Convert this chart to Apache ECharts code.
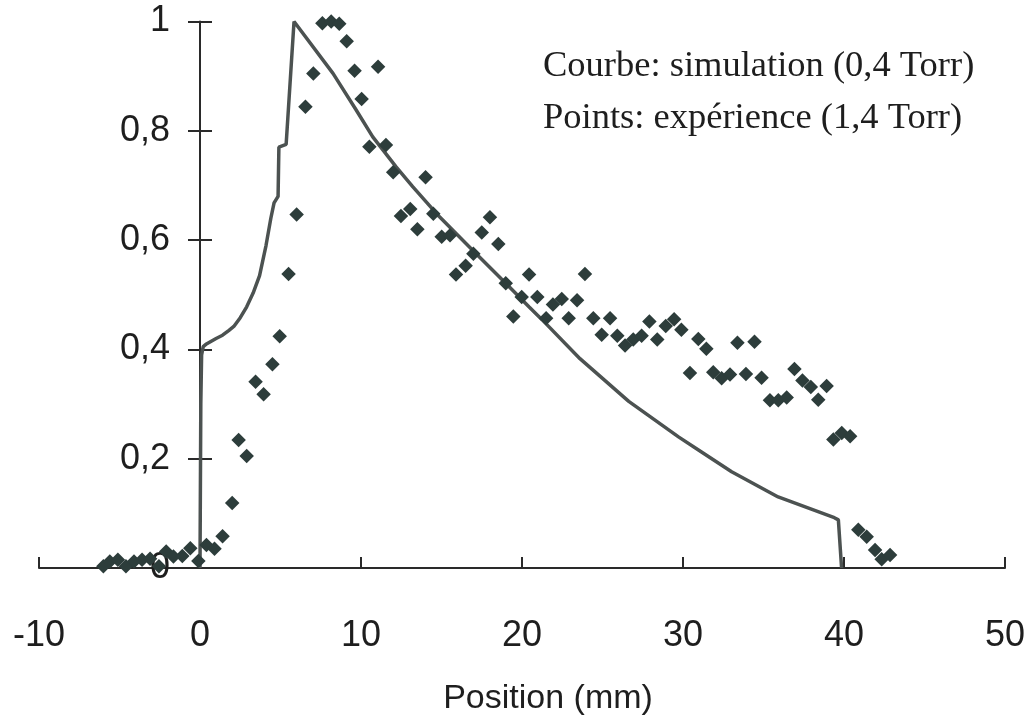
<!DOCTYPE html>
<html>
<head>
<meta charset="utf-8">
<script src="https://cdn.jsdelivr.net/npm/echarts@6/dist/echarts.min.js"></script>
<style>
html,body{margin:0;padding:0;background:#ffffff;}
#chart{width:1031px;height:718px;}
</style>
</head>
<body>
<div id="chart"></div>
<script>
// Simulation curve (0,4 Torr)
const simPosition = [0, 0.05, 0.1, 0.2, 0.4, 0.7, 1.0, 1.4, 1.8, 2.1, 2.5, 2.9, 3.3, 3.7, 4.1, 4.4, 4.6, 4.85, 4.9, 5.35, 5.84,
  8.26, 9.7, 10.73, 12.18, 13.21, 14.86, 16.92, 18.99, 20.43, 21.26, 23.6, 26.63, 29.72, 30.96, 33.02, 35.91, 39.4, 39.65, 39.85];
const simValue = [0, 0.3, 0.39, 0.405, 0.41, 0.415, 0.42, 0.426, 0.435, 0.442, 0.458, 0.478, 0.503, 0.535, 0.59, 0.64, 0.668, 0.68, 0.77, 0.775, 1.0,
  0.905, 0.838, 0.789, 0.734, 0.698, 0.643, 0.582, 0.521, 0.478, 0.454, 0.383, 0.305, 0.240, 0.216, 0.176, 0.130, 0.092, 0.088, 0];

// Experimental points (1,4 Torr)
const expPosition = [-6.0, -5.6, -5.1, -4.6, -4.1, -3.6, -3.1, -2.55, -2.1, -1.65, -1.1, -0.6, -0.1, 0.4, 0.9, 1.4, 2.0, 2.4, 2.9, 3.45,
  3.95, 4.5, 4.95, 5.5, 6.0, 6.55, 7.04, 7.6, 8.15, 8.65, 9.11, 9.6, 10.04, 10.52, 11.06, 11.55, 12.0, 12.48, 13.06, 13.5,
  14.01, 14.49, 15.01, 15.53, 15.9, 16.5, 16.98, 17.5, 18.01, 18.53, 18.99, 19.46, 19.98, 20.44, 20.95, 21.5, 21.92, 22.47, 22.9, 23.42,
  23.91, 24.43, 24.95, 25.47, 25.92, 26.4, 26.91, 27.43, 27.91, 28.4, 28.93, 29.45, 29.9, 30.43, 30.95, 31.45, 31.88, 32.4, 32.92, 33.38,
  33.91, 34.44, 34.88, 35.4, 35.92, 36.44, 36.92, 37.42, 37.94, 38.4, 38.92, 39.34, 39.86, 40.38, 40.89, 41.41, 41.93, 42.34, 42.86];
const expValue = [0.003, 0.012, 0.015, 0.003, 0.012, 0.015, 0.017, 0.003, 0.030, 0.021, 0.022, 0.036, 0.013, 0.042, 0.035, 0.058, 0.119, 0.234, 0.205, 0.341,
  0.318, 0.373, 0.424, 0.538, 0.647, 0.844, 0.905, 0.997, 1.0, 0.996, 0.964, 0.91, 0.858, 0.771, 0.917, 0.774, 0.724, 0.644, 0.657, 0.62,
  0.715, 0.648, 0.606, 0.609, 0.537, 0.553, 0.575, 0.614, 0.642, 0.593, 0.521, 0.46, 0.496, 0.537, 0.496, 0.457, 0.482, 0.492, 0.457, 0.49,
  0.538, 0.457, 0.427, 0.457, 0.425, 0.407, 0.418, 0.425, 0.451, 0.418, 0.443, 0.455, 0.436, 0.357, 0.419, 0.401, 0.358, 0.347, 0.354, 0.412,
  0.355, 0.414, 0.348, 0.307, 0.307, 0.312, 0.364, 0.343, 0.331, 0.308, 0.333, 0.235, 0.247, 0.241, 0.07, 0.057, 0.033, 0.016, 0.024];

const xMin = -10, xMax = 50, xStep = 10;
const yMin = 0, yMax = 1, yStep = 0.2;
const xTitle = 'Position (mm)';
const noteLines = ['Courbe: simulation (0,4 Torr)', 'Points: expérience (1,4 Torr)'];

const simData = simPosition.map((x, i) => [x, simValue[i]]);
const expData = expPosition.map((x, i) => [x, expValue[i]]);

const axisColor = '#2a2a2a';
const textColor = '#1e1e1e';
const sans = '"Liberation Sans", Arial, sans-serif';

const W = 1031, gridLeft = 39, gridRight = 26;
const gridWidth = W - gridLeft - gridRight;
// the vertical axis sits at position 0 of the horizontal scale
const yAxisOffset = -gridWidth * (0 - xMin) / (xMax - xMin);

const chart = echarts.init(document.getElementById('chart'), null, {renderer: 'canvas'});
chart.setOption({
  backgroundColor: '#ffffff',
  animation: false,
  title: {
    text: noteLines.join('\n'),
    left: 543,
    top: 40,
    padding: 0,
    textStyle: {
      fontFamily: '"Liberation Serif", "Times New Roman", serif',
      fontSize: 36.5,
      fontWeight: 'normal',
      color: textColor,
      lineHeight: 52
    }
  },
  grid: {left: gridLeft, right: gridRight, top: 21.5, bottom: 150, containLabel: false, outerBoundsMode: 'none'},
  xAxis: [{
    type: 'value',
    min: xMin, max: xMax, interval: xStep,
    name: xTitle,
    nameLocation: 'middle',
    nameGap: 114,
    nameTextStyle: {fontFamily: sans, fontSize: 34, color: textColor, padding: [0, 0, 0, 52]},
    axisLine: {show: true, onZero: false, lineStyle: {color: axisColor, width: 2}},
    axisTick: {show: true, inside: true, length: 11, lineStyle: {color: axisColor, width: 2}},
    axisLabel: {fontFamily: sans, fontSize: 36, color: textColor, margin: 48, lineHeight: 40},
    splitLine: {show: false}
  }],
  yAxis: [{
    type: 'value',
    position: 'left',
    offset: yAxisOffset,
    min: yMin, max: yMax, interval: yStep,
    axisLine: {show: true, onZero: false, lineStyle: {color: axisColor, width: 2}},
    axisTick: {show: true, inside: false, length: 12, lineStyle: {color: axisColor, width: 2}},
    axisLabel: {
      fontFamily: sans, fontSize: 36, color: textColor, margin: 30,
      formatter: v => String(Math.round(v * 10) / 10).replace('.', ',')
    },
    splitLine: {show: false}
  }, {
    type: 'value',
    position: 'left',
    offset: yAxisOffset,
    min: yMin, max: yMax, interval: yStep,
    axisLine: {show: false, onZero: false},
    axisTick: {show: true, inside: true, length: 12, lineStyle: {color: axisColor, width: 2}},
    axisLabel: {show: false},
    splitLine: {show: false}
  }],
  series: [{
    type: 'line',
    name: 'simulation',
    data: simData,
    showSymbol: false,
    symbol: 'none',
    lineStyle: {color: '#4c5251', width: 3.5},
    z: 2
  }, {
    type: 'scatter',
    name: 'expérience',
    data: expData,
    symbol: 'diamond',
    symbolSize: 14.5,
    itemStyle: {color: '#2d3d3b', opacity: 1},
    z: 3
  }]
});
</script>
</body>
</html>
